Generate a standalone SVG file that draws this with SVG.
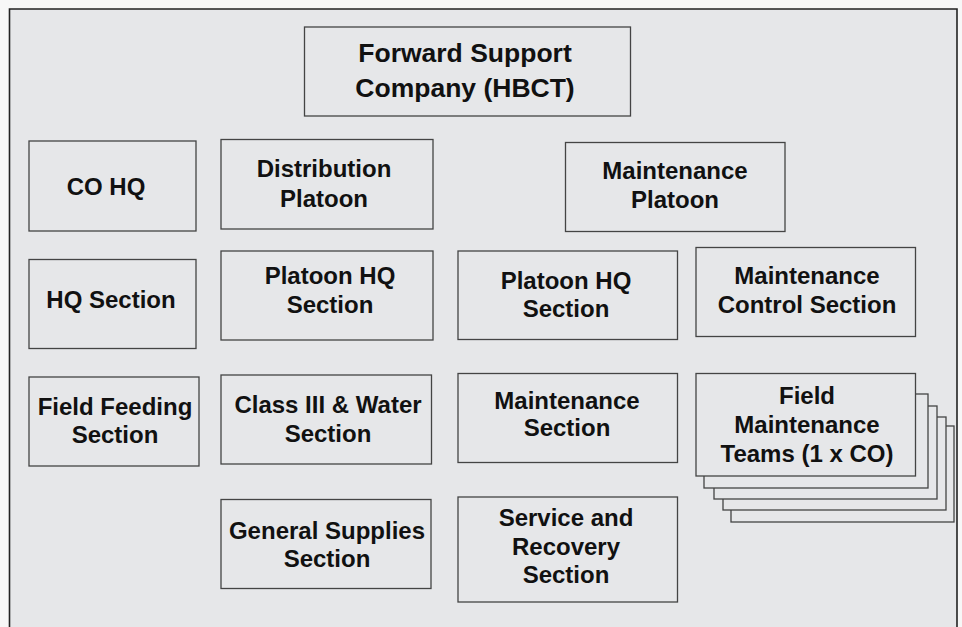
<svg xmlns="http://www.w3.org/2000/svg" width="962" height="627" viewBox="0 0 962 627">
<style>
.box{fill:#e6e7e9;stroke:#444;stroke-width:1.3}
.t{font-family:"Liberation Sans",Arial,sans-serif;font-weight:bold;font-size:24px;fill:#111;text-anchor:middle}
.title{font-size:26.5px}
</style>
<rect x="0" y="0" width="962" height="627" fill="#f7f7f7"/>
<rect x="9.5" y="9" width="947.5" height="630" fill="#e6e7e9"/>
<path d="M9.5,627 V9 H957 V627" fill="none" stroke="#222" stroke-width="1.6"/>
<g id="connectors"></g>
<g id="fsc"><rect class="box" x="304.5" y="27" width="326" height="89"/>
<text class="t title" x="465" y="62">Forward Support</text><text class="t title" x="465" y="96.5">Company (HBCT)</text></g>
<g id="cohq"><rect class="box" x="29" y="141" width="167" height="90"/>
<text class="t" x="106" y="195">CO HQ</text></g>
<g id="distplt"><rect class="box" x="221" y="139.5" width="212" height="89.5"/>
<text class="t" x="324" y="177">Distribution</text><text class="t" x="324" y="207">Platoon</text></g>
<g id="maintplt"><rect class="box" x="565.5" y="142.5" width="219.5" height="89"/>
<text class="t" x="675" y="179">Maintenance</text><text class="t" x="675" y="207.5">Platoon</text></g>
<g id="hqsec"><rect class="box" x="29" y="259.5" width="167" height="89"/>
<text class="t" x="111" y="308">HQ Section</text></g>
<g id="dplthq"><rect class="box" x="221" y="251" width="212" height="89"/>
<text class="t" x="330" y="284">Platoon HQ</text><text class="t" x="330" y="312.5">Section</text></g>
<g id="mplthq"><rect class="box" x="458" y="251" width="219.5" height="88.5"/>
<text class="t" x="566" y="289">Platoon HQ</text><text class="t" x="566" y="316.5">Section</text></g>
<g id="mcs"><rect class="box" x="696" y="247.5" width="219.5" height="89"/>
<text class="t" x="807" y="284">Maintenance</text><text class="t" x="807" y="312.5">Control Section</text></g>
<g id="ffs"><rect class="box" x="29" y="377" width="170" height="89"/>
<text class="t" x="115" y="415">Field Feeding</text><text class="t" x="115" y="443">Section</text></g>
<g id="c3w"><rect class="box" x="221" y="375" width="210.5" height="89"/>
<text class="t" x="328" y="413">Class III &amp; Water</text><text class="t" x="328" y="441.5">Section</text></g>
<g id="maintsec"><rect class="box" x="458" y="373.5" width="219.5" height="89"/>
<text class="t" x="567" y="409">Maintenance</text><text class="t" x="567" y="436">Section</text></g>
<g id="fmt">
<rect class="box" x="731" y="426" width="223" height="96"/>
<rect class="box" x="723" y="417" width="223" height="93"/>
<rect class="box" x="714" y="406" width="223" height="93"/>
<rect class="box" x="704" y="394" width="224" height="94"/>
<rect class="box" x="696" y="373.5" width="219.5" height="102.5"/>
<text class="t" x="807" y="404">Field</text><text class="t" x="807" y="433">Maintenance</text><text class="t" x="807" y="461.5">Teams (1 x CO)</text></g>
<g id="gss"><rect class="box" x="221" y="499.5" width="210" height="89"/>
<text class="t" x="327" y="539">General Supplies</text><text class="t" x="327" y="567">Section</text></g>
<g id="srs"><rect class="box" x="458" y="497" width="219.5" height="105"/>
<text class="t" x="566" y="525.5">Service and</text><text class="t" x="566" y="554.5">Recovery</text><text class="t" x="566" y="583">Section</text></g>
</svg>
